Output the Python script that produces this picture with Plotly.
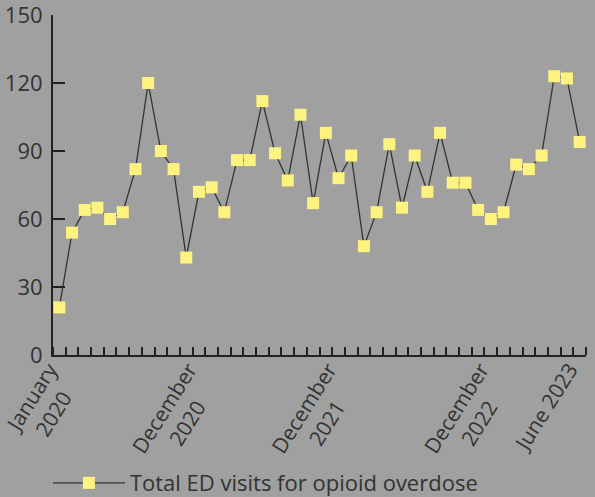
import plotly.graph_objects as go

months = [f"{m} {y}" for y in (2020, 2021, 2022, 2023) for m in
          ["January", "February", "March", "April", "May", "June", "July",
           "August", "September", "October", "November", "December"]][:42]
visits = [21, 54, 64, 65, 60, 63, 82, 120, 90, 82, 43, 72, 74, 63, 86, 86, 112, 89,
          77, 106, 67, 98, 78, 88, 48, 63, 93, 65, 88, 72, 98, 76, 76, 64, 60, 63,
          84, 82, 88, 123, 122, 94]
# tick label positions (month index)
tick_index = [0, 11, 22, 34, 41]
NB = "\u00a0"
tick_text = ["January<br>2020" + NB * 3, "December<br>2020" + NB * 5,
             "December<br>2021" + NB * 5, "December<br>2022" + NB * 5,
             "June 2023"]
y_ticks = [0, 30, 60, 90, 120, 150]

x_idx = list(range(len(months)))

BG = "#a0a0a0"
TXT = "#333333"
AX = "#222222"

fig = go.Figure()
fig.add_trace(go.Scatter(
    x=x_idx, y=visits, mode="lines+markers",
    name="Total ED visits for opioid overdose",
    line=dict(color="#333333", width=1.3),
    marker=dict(symbol="square", size=12, color="#fff37f", line=dict(width=0)),
    customdata=months, hovertemplate="%{customdata}: %{y}<extra></extra>",
))

fig.update_layout(
    width=595, height=497,
    paper_bgcolor=BG, plot_bgcolor=BG,
    margin=dict(l=53, r=9, t=15, b=142, autoexpand=False),
    font=dict(family="Open Sans, Noto Sans, sans-serif", size=22, color=TXT),
    showlegend=True,
    legend=dict(orientation="h", x=-0.0096, xanchor="left", y=-0.315, yanchor="top",
                font=dict(size=22, color=TXT), itemwidth=72, bgcolor="rgba(0,0,0,0)"),
    xaxis=dict(
        range=[-0.5, len(months) - 0.5], showgrid=False, zeroline=False,
        showline=True, linecolor=AX, linewidth=2, automargin=False,
        tickmode="array", tickvals=tick_index, ticktext=tick_text,
        ticks="", tickangle=-58, tickfont=dict(size=21, color=TXT),
        ticklabeloverflow="allow", ticklabelshift=-10, ticklabelstandoff=-8,
        minor=dict(tickmode="linear", tick0=-0.5, dtick=1, ticks="inside",
                   ticklen=8, tickwidth=2, tickcolor=AX, showgrid=False),
    ),
    yaxis=dict(
        range=[0, 150], showgrid=False, zeroline=False,
        showline=True, linecolor=AX, linewidth=2, automargin=False,
        tickmode="array", tickvals=y_ticks, ticklabeloverflow="allow",
        ticks="inside", ticklen=12, tickwidth=2, tickcolor=AX,
        tickfont=dict(size=22, color=TXT), ticklabelstandoff=4,
    ),
)

fig.write_html("out.html", config={"displayModeBar": False},
               post_script="document.body.style.margin='0';document.body.style.background='#a0a0a0';")
